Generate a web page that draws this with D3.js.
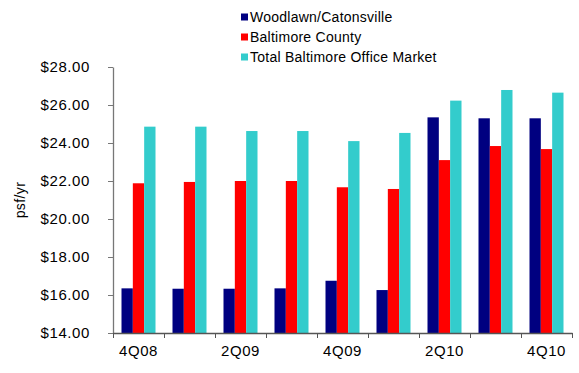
<!DOCTYPE html>
<html>
<head>
<meta charset="utf-8">
<script src="https://cdn.jsdelivr.net/npm/d3@7"></script>
<style>
  html, body { margin: 0; padding: 0; background: #fff; }
  svg { display: block; font-family: Arial, "Liberation Sans", sans-serif; }
</style>
</head>
<body>
<svg id="chart" width="579" height="373"></svg>
<script>
const categories = ["4Q08", "1Q09", "2Q09", "3Q09", "4Q09", "1Q10", "2Q10", "3Q10", "4Q10"];
const shownLabels = ["4Q08", "2Q09", "4Q09", "2Q10", "4Q10"];
const seriesNames = ["Woodlawn/Catonsville", "Baltimore County", "Total Baltimore Office Market"];
const woodlawn = [16.35, 16.33, 16.33, 16.35, 16.75, 16.26, 25.35, 25.30, 25.30];
const baltimoreCounty = [21.88, 21.95, 22.00, 22.00, 21.67, 21.58, 23.10, 23.84, 23.68];
const totalMarket = [24.86, 24.86, 24.63, 24.63, 24.10, 24.53, 26.23, 26.79, 26.65];
const yTicks = [14, 16, 18, 20, 22, 24, 26, 28];
const colors = ["#000080", "#FF0000", "#33CCCC"];

const seriesValues = [woodlawn, baltimoreCounty, totalMarket];
const svg = d3.select("#chart");

const mLeft = 113, mRight = 572, mTop = 67, mBottom = 333;

const x0 = d3.scaleBand().domain(categories).range([mLeft, mRight]).padding(0);
const x1 = d3.scaleBand().domain(seriesNames).range([0, x0.bandwidth()]).paddingInner(0).paddingOuter(0.75);
const y = d3.scaleLinear().domain([14, 28]).range([mBottom, mTop]);

// bars
const groups = svg.append("g").selectAll("g")
  .data(categories)
  .join("g")
  .attr("transform", d => `translate(${x0(d)},0)`);

groups.selectAll("rect")
  .data((d, i) => seriesNames.map((s, j) => ({ s, j, v: seriesValues[j][i] })))
  .join("rect")
  .attr("x", d => x1(d.s))
  .attr("width", x1.bandwidth())
  .attr("y", d => y(d.v))
  .attr("height", d => y(14) - y(d.v))
  .attr("fill", d => colors[d.j]);

// y axis
const yAxis = svg.append("g")
  .attr("transform", `translate(${mLeft},0)`)
  .call(d3.axisLeft(y).tickValues(yTicks).tickFormat(d3.format("$.2f")).tickSize(5).tickSizeOuter(0).tickPadding(18));
yAxis.select(".domain").attr("stroke", "#777").attr("stroke-width", 1.3);
yAxis.selectAll(".tick line").attr("stroke", "#777");
yAxis.selectAll("text").attr("font-size", 15).attr("letter-spacing", "0.6px").attr("fill", "#000")
  .attr("font-family", "Arial, 'Liberation Sans', sans-serif");

// x axis boundary ticks
const xIdx = d3.scaleLinear().domain([0, categories.length]).range([mLeft, mRight]);
const xAxisTicks = svg.append("g")
  .attr("transform", `translate(0,${mBottom})`)
  .call(d3.axisBottom(xIdx).tickValues(d3.range(categories.length + 1)).tickFormat("").tickSize(5).tickSizeOuter(0));
xAxisTicks.select(".domain").attr("stroke", "#555").attr("stroke-width", 1.3);
xAxisTicks.selectAll(".tick line").attr("stroke", "#555");

// x labels
const xAxisLabels = svg.append("g")
  .attr("transform", `translate(0,${mBottom})`)
  .call(d3.axisBottom(x0).tickSize(0).tickPadding(12).tickFormat(d => shownLabels.includes(d) ? d : ""));
xAxisLabels.select(".domain").remove();
xAxisLabels.selectAll("text").attr("font-size", 15).attr("letter-spacing", "0.6px").attr("fill", "#000")
  .attr("font-family", "Arial, 'Liberation Sans', sans-serif");

// y title
svg.append("text")
  .attr("transform", `translate(25,${(mTop + mBottom) / 2}) rotate(-90)`)
  .attr("text-anchor", "middle")
  .attr("font-size", 14)
  .attr("letter-spacing", "0.4px")
  .text("psf/yr");

// legend
const legend = svg.append("g").attr("transform", "translate(241,0)");
const ly = d3.scalePoint().domain(seriesNames).range([17, 57]);
seriesNames.forEach((s, i) => {
  legend.append("rect").attr("x", 0).attr("y", ly(s) - 3.5).attr("width", 7).attr("height", 7).attr("fill", colors[i]);
  legend.append("text").attr("x", 9).attr("y", ly(s)).attr("dy", "0.35em")
    .attr("font-size", 14).attr("letter-spacing", "0.25px").text(s);
});
</script>
</body>
</html>
